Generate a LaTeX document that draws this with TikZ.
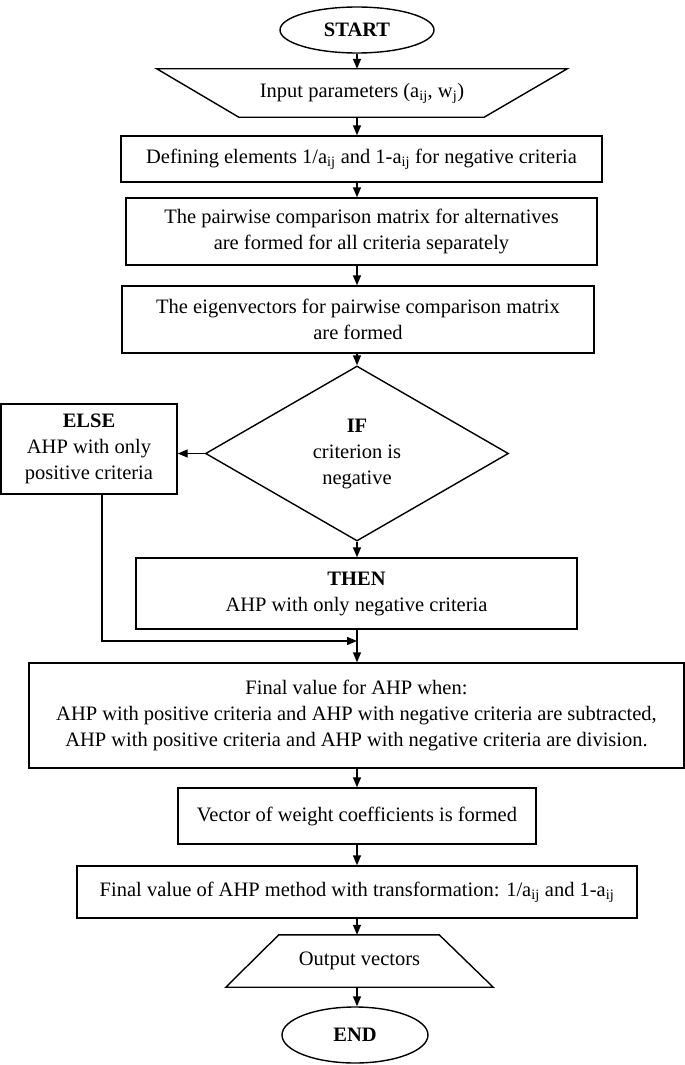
\documentclass[tikz,border=0pt]{standalone}
\usepackage{fontspec}
\setmainfont{Liberation Serif}
\usetikzlibrary{shapes.geometric,arrows.meta}
\begin{document}
\begin{tikzpicture}[x=1pt,y=-1pt,
  every node/.style={font=\fontsize{20.5}{26}\selectfont, align=center, inner sep=0pt},
  box/.style={draw, line width=1.4pt, rectangle},
  ln/.style={line width=1.4pt},
  arr/.style={line width=1.4pt, -{Triangle[length=10pt,width=8pt]}}]
\useasboundingbox (0,0) rectangle (685,1065);
\coordinate (axis) at (357,0);
\coordinate (elsex) at (102,0);
\coordinate (join) at (357,641);

\node[draw, ellipse, line width=1.4pt, minimum width=154pt, minimum height=46pt] (start) at (357,30) {\textbf{START}};

\node[minimum width=410pt, minimum height=48pt] (inp) at (362,93) {Input parameters (a\textsubscript{ij}, w\textsubscript{j})};
\draw[ln] (inp.north west) -- (inp.north east) -- ([xshift=-83pt]inp.south east) -- ([xshift=82pt]inp.south west) -- cycle;

\node[box, minimum width=481pt, minimum height=46pt] (b1) at (361.5,159) {Defining elements 1/a\textsubscript{ij} and 1-a\textsubscript{ij} for negative criteria};
\node[box, minimum width=471pt, minimum height=67pt] (b2) at (361.5,231.5) {The pairwise comparison matrix for alternatives\\ are formed for all criteria separately};
\node[box, minimum width=472pt, minimum height=67pt] (b3) at (358,319.5) {The eigenvectors for pairwise comparison matrix\\ are formed};

\node[draw, diamond, aspect=1.73, line width=1.4pt, minimum width=303pt, minimum height=175pt] (dia) at (357,453.5) {\textbf{IF}\\ criterion is\\ negative};

\node[box, minimum width=176pt, minimum height=90pt] (else) at (89,449) {\textbf{ELSE}\\ AHP with only\\ positive criteria};

\node[box, minimum width=441pt, minimum height=71pt] (then) at (356.5,593.5) {\textbf{THEN}\\ AHP with only negative criteria};

\node[box, minimum width=655pt, minimum height=105pt] (fin) at (356.5,715.5) {Final value for AHP when:\\ AHP with positive criteria and AHP with negative criteria are subtracted,\\ AHP with positive criteria and AHP with negative criteria are division.};

\node[box, minimum width=358pt, minimum height=56pt] (vec) at (357,816) {Vector of weight coefficients is formed};

\node[box, minimum width=560pt, minimum height=52pt] (fahp) at (357,892) {Final value of AHP method with transformation: 1/a\textsubscript{ij} and 1-a\textsubscript{ij}};

\node[minimum width=267pt, minimum height=52pt] (out) at (359.5,961) {Output vectors};
\draw[ln] ([xshift=53pt]out.north west) -- ([xshift=-54pt]out.north east) -- (out.south east) -- (out.south west) -- cycle;

\node[draw, ellipse, line width=1.4pt, minimum width=146pt, minimum height=56pt] (end) at (355,1035) {\textbf{END}};

% connectors
\draw[arr] (start.south -| axis) -- (inp.north -| axis);
\draw[arr] (inp.south -| axis) -- (b1.north -| axis);
\draw[arr] (b1.south -| axis) -- (b2.north -| axis);
\draw[arr] (b2.south -| axis) -- (b3.north -| axis);
\draw[arr] (b3.south -| axis) -- (dia.north);
\draw[arr] (dia.south) -- (then.north -| axis);
\draw[arr] (dia.west) -- (dia.west -| else.east);
\draw[arr] (else.south -| elsex) -- (elsex |- join) -- (join);
\draw[arr] (then.south -| axis) -- (fin.north -| axis);
\draw[arr] (fin.south -| axis) -- (vec.north -| axis);
\draw[arr] (vec.south -| axis) -- (fahp.north -| axis);
\draw[arr] (fahp.south -| axis) -- (out.north -| axis);
\draw[arr] (out.south -| axis) -- (end.north -| axis);
\end{tikzpicture}
\end{document}
